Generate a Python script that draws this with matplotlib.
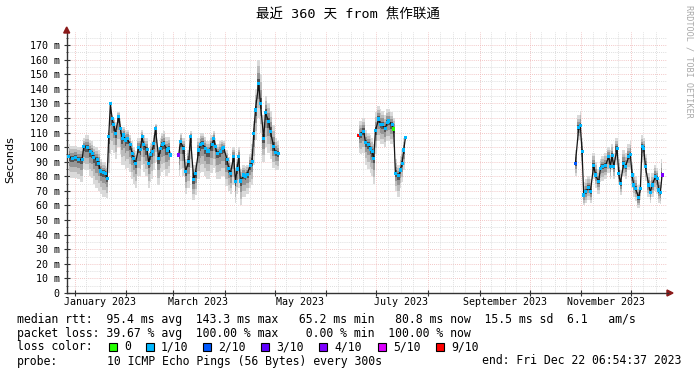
import numpy as np
import pandas as pd
import matplotlib
matplotlib.use("Agg")
import matplotlib.pyplot as plt
from matplotlib.patches import Rectangle, Polygon

# ---- data (median rtt in ms, min/max smoke, loss in tenths)
dates = [
    "2022-12-28", "2022-12-30", "2023-01-01", "2023-01-03", "2023-01-05", "2023-01-06",
    "2023-01-08", "2023-01-10", "2023-01-11", "2023-01-12", "2023-01-14", "2023-01-15",
    "2023-01-16", "2023-01-18", "2023-01-19", "2023-01-20", "2023-01-21", "2023-01-22",
    "2023-01-23", "2023-01-24", "2023-01-25", "2023-01-27", "2023-01-28", "2023-01-29",
    "2023-01-30", "2023-01-31", "2023-02-01", "2023-02-03", "2023-02-04", "2023-02-05",
    "2023-02-06", "2023-02-08", "2023-02-09", "2023-02-10", "2023-02-11", "2023-02-13",
    "2023-02-14", "2023-02-15", "2023-02-16", "2023-02-17", "2023-02-18", "2023-02-20",
    "2023-02-21", "2023-02-22", "2023-02-23", "2023-02-25", "2023-02-26", "2023-02-27",
    "2023-03-01",
    "2023-03-04", "2023-03-05", "2023-03-07", "2023-03-08", "2023-03-10", "2023-03-11",
    "2023-03-13", "2023-03-14", "2023-03-16", "2023-03-17", "2023-03-18", "2023-03-20",
    "2023-03-21", "2023-03-22", "2023-03-24", "2023-03-25", "2023-03-26", "2023-03-27",
    "2023-03-29", "2023-03-30", "2023-03-31", "2023-04-02", "2023-04-03", "2023-04-04",
    "2023-04-06", "2023-04-07", "2023-04-08", "2023-04-09", "2023-04-10", "2023-04-12",
    "2023-04-13", "2023-04-14", "2023-04-16", "2023-04-17", "2023-04-18", "2023-04-19",
    "2023-04-21", "2023-04-22", "2023-04-24", "2023-04-25", "2023-04-27", "2023-04-28",
    "2023-04-30", "2023-05-01", "2023-05-03",
    "2023-05-05",
    "2023-06-20", "2023-06-21", "2023-06-23", "2023-06-24", "2023-06-26", "2023-06-27",
    "2023-06-28", "2023-06-29", "2023-06-30", "2023-07-02", "2023-07-03", "2023-07-04",
    "2023-07-06", "2023-07-07", "2023-07-08", "2023-07-10", "2023-07-11", "2023-07-12",
    "2023-07-14", "2023-07-15", "2023-07-16", "2023-07-17", "2023-07-18",
    "2023-07-20",
    "2023-10-28", "2023-10-30", "2023-10-31", "2023-11-01", "2023-11-02", "2023-11-03",
    "2023-11-05", "2023-11-06", "2023-11-08", "2023-11-09", "2023-11-11", "2023-11-12",
    "2023-11-13", "2023-11-15", "2023-11-17", "2023-11-18", "2023-11-19", "2023-11-20",
    "2023-11-22", "2023-11-23", "2023-11-24", "2023-11-26", "2023-11-27", "2023-11-29",
    "2023-11-30", "2023-12-01", "2023-12-02", "2023-12-03", "2023-12-05", "2023-12-06",
    "2023-12-07", "2023-12-08", "2023-12-09", "2023-12-11", "2023-12-12", "2023-12-13",
    "2023-12-15", "2023-12-16", "2023-12-17", "2023-12-18", "2023-12-19",
]

nan = np.nan
median_ms = [
    93.4, 92.3, 93.0, 91.8, 91.2, 100.3, 99.9, 96.9, 95.8, 92.8, 91.2, 88.9,
    83.6, 82.7, 82.0, 78.6, 107.1, 130.0, 119.7, 115.2, 109.5, 120.9, 112.9, 106.0,
    108.3, 104.9, 106.0, 101.5, 95.8, 92.3, 88.9, 99.6, 98.5, 107.1, 101.5, 98.5,
    88.9, 95.0, 96.9, 102.6, 112.9, 92.3, 99.2, 101.9, 102.6, 98.0, 99.2, 94.6,
    nan,
    94.6, 103.7, 99.2, 83.2, 90.0, 107.1, 77.5, 82.0, 98.0, 101.5, 102.6, 99.2,
    96.9, 97.3, 101.5, 106.0, 100.3, 95.8, 96.9, 99.2, 99.6, 91.2, 85.5, 82.0,
    93.4, 76.3, 85.0, 93.4, 76.8, 80.9, 80.2, 81.4, 87.7, 90.0, 109.5, 125.4,
    143.5, 130.0, 106.0, 123.6, 117.4, 110.6, 100.3, 96.2, 95.8,
    nan,
    107.8, 108.8, 111.0, 103.3, 101.9, 98.7, 96.9, 92.3, 111.3, 119.3, 115.6, 115.2,
    112.9, 117.0, 117.9, 115.2, 112.4, 82.0, 80.4, 84.3, 88.9, 98.0, 106.5,
    nan,
    88.9, 113.3, 114.7, 96.9, 67.2, 69.4, 72.2, 69.4, 87.7, 80.9, 76.3, 85.5,
    86.6, 87.3, 93.4, 86.6, 94.1, 86.6, 99.2, 82.0, 75.2, 88.9, 86.6, 93.4,
    95.0, 80.9, 74.0, 71.8, 65.3, 71.8, 100.3, 99.2, 86.6, 74.0, 69.0, 74.0,
    79.7, 78.6, 70.6, 69.0, 80.9,
]

smoke_lo = [
    80, 79, 79, 78, 76, 85, 84, 80, 79, 75, 72, 70,
    68, 66, 66, 65, 82, 95, 98, 96, 92, 100, 95, 88,
    88, 85, 86, 83, 78, 75, 72, 80, 80, 88, 83, 80,
    72, 76, 78, 84, 90, 74, 80, 83, 84, 80, 82, 78,
    nan,
    80, 85, 80, 68, 72, 86, 64, 67, 78, 82, 83, 80,
    78, 78, 82, 86, 82, 78, 78, 80, 80, 73, 70, 68,
    74, 62, 68, 72, 60, 66, 66, 68, 72, 74, 88, 105,
    120, 110, 90, 100, 96, 92, 86, 84, 84,
    nan,
    96, 95, 96, 88, 85, 82, 80, 75, 95, 104, 102, 102,
    100, 104, 104, 102, 100, 70, 66, 72, 76, 84, 92,
    nan,
    80, 105, 104, 88, 60, 62, 64, 62, 78, 72, 68, 76,
    77, 78, 82, 78, 84, 78, 88, 74, 67, 80, 78, 84,
    85, 72, 66, 63, 58, 64, 90, 88, 77, 66, 62, 66,
    70, 68, 62, 61, 72,
]

smoke_hi = [
    102, 101, 101, 100, 100, 106, 108, 105, 104, 101, 100, 98,
    92, 90, 89, 86, 112, 131, 122, 120, 117, 124, 120, 114,
    114, 112, 112, 108, 104, 100, 97, 106, 106, 112, 108, 106,
    97, 103, 104, 108, 116, 100, 106, 110, 111, 107, 107, 103,
    nan,
    102, 110, 106, 92, 98, 111, 88, 90, 106, 110, 110, 107,
    104, 104, 108, 111, 106, 102, 104, 105, 104, 98, 93, 90,
    100, 86, 92, 100, 85, 88, 87, 88, 95, 102, 118, 140,
    160, 150, 122, 135, 130, 125, 115, 106, 104,
    nan,
    118, 118, 120, 112, 110, 108, 106, 102, 124, 128, 126, 125,
    122, 126, 126, 124, 120, 92, 88, 94, 98, 106, 114,
    nan,
    98, 122, 125, 106, 76, 78, 80, 78, 96, 90, 85, 92,
    94, 96, 100, 98, 102, 96, 106, 92, 84, 98, 96, 102,
    104, 90, 82, 80, 74, 80, 108, 106, 95, 82, 77, 82,
    88, 86, 78, 76, 92,
]

loss_tenths = [
    1, 1, 1, 1, 1, 1, 1, 1, 1, 1, 1, 1,
    1, 1, 1, 1, 1, 1, 1, 1, 1, 1, 1, 1,
    1, 1, 1, 1, 1, 1, 1, 1, 1, 1, 1, 1,
    1, 1, 1, 1, 1, 1, 1, 1, 1, 1, 1, 1,
    10,
    4, 1, 1, 1, 1, 1, 1, 1, 1, 1, 1, 1,
    1, 1, 1, 1, 1, 1, 1, 1, 1, 1, 1, 1,
    1, 1, 1, 1, 1, 1, 1, 1, 1, 1, 1, 1,
    1, 1, 1, 1, 1, 1, 1, 1, 1,
    10,
    9, 1, 1, 1, 1, 1, 1, 1, 1, 1, 1, 1,
    1, 1, 1, 1, 0, 1, 1, 1, 1, 1, 1,
    10,
    2, 1, 1, 1, 1, 1, 1, 1, 1, 1, 1, 1,
    1, 1, 1, 1, 1, 1, 1, 1, 1, 1, 1, 1,
    1, 1, 1, 1, 1, 1, 1, 1, 1, 1, 1, 1,
    1, 1, 1, 1, 4,
]

loss_labels = ["0", "1/10", "2/10", "3/10", "4/10", "5/10", "9/10"]
loss_colors = ["#26ff00", "#00b8ff", "#0059ff", "#5e00ff", "#7e00ff", "#dd00ff", "#ff0000"]
loss_color_of = {0: "#26ff00", 1: "#00b8ff", 2: "#0059ff", 3: "#5e00ff",
                 4: "#7e00ff", 5: "#dd00ff", 9: "#ff0000"}

start = pd.Timestamp("2022-12-27 06:54:37")
end = pd.Timestamp("2023-12-22 06:54:37")

t = pd.to_datetime(dates) + pd.Timedelta(hours=12)
med = np.array(median_ms, dtype=float)
lo = np.array(smoke_lo, dtype=float)
hi = np.array(smoke_hi, dtype=float)

W, H = 697, 375
fig = plt.figure(figsize=(W / 100, H / 100), dpi=100)
fig.patch.set_facecolor("white")

def fx(px):
    return px / W

def fy(py):
    return 1 - py / H

x0, x1 = 66.7, 666.7
y0, y1 = 293.0, 32.0
ax = fig.add_axes([fx(x0), fy(y0), fx(x1) - fx(x0), fy(y1) - fy(y0)])
ax.set_xlim(start, end)
ax.set_ylim(0, 178.9)

# grid
for v in np.arange(5, 179, 10):
    ax.axhline(v, color="#d4d4d4", lw=0.6, ls=(0, (1, 1.5)), zorder=0)
for v in np.arange(10, 179, 10):
    ax.axhline(v, color="#eeb4b4", lw=0.6, ls=(0, (1, 1.5)), zorder=0)
months = pd.date_range("2023-01-01", "2023-12-01", freq="MS")
for m in months:
    for d in (8, 16, 23):
        ax.axvline(m + pd.Timedelta(days=d - 1), color="#d4d4d4", lw=0.6,
                   ls=(0, (1, 1.5)), zorder=0)
    ax.axvline(m, color="#eeb4b4", lw=0.6, ls=(0, (1, 1.5)), zorder=0)

# smoke, outer (light) to inner (dark)
shades = [(1.0, "#dadada"), (0.72, "#bcbcbc"), (0.45, "#969696"), (0.2, "#555555")]
for frac, col in shades:
    ax.fill_between(t, med - frac * (med - lo), med + frac * (hi - med),
                    step="mid", color=col, lw=0, zorder=2)

# median line and loss-coloured points
ax.plot(t, med, color="#151515", lw=0.9, zorder=3)
pt_cols = [loss_color_of.get(l, "none") for l in loss_tenths]
ok = ~np.isnan(med)
ax.scatter(t[ok], med[ok], c=[c for c, k in zip(pt_cols, ok) if k], marker="s",
           s=5, linewidths=0, zorder=4)

# axes styling
for s in ("top", "right"):
    ax.spines[s].set_visible(False)
ax.spines["left"].set_color("#333333")
ax.spines["bottom"].set_color("#333333")
ax.spines["left"].set_linewidth(1.0)
ax.spines["bottom"].set_linewidth(1.0)

ax.set_yticks(np.arange(0, 171, 10))
ax.set_yticklabels(["0"] + [f"{v} m" for v in range(10, 171, 10)])
ax.set_yticks(np.arange(5, 179, 10), minor=True)
ax.tick_params(axis="y", which="major", direction="inout", length=4, width=0.8,
               colors="#333333", labelcolor="black", labelsize=7.2, pad=3)
ax.tick_params(axis="y", which="minor", direction="inout", length=2, width=0.6,
               colors="#333333")

ax.set_xticks(list(months))
ax.set_xticklabels([])
ax.tick_params(axis="x", which="major", direction="inout", length=4, width=0.8,
               colors="#333333")
label_pos = [pd.Timestamp(f"2023-{m:02d}-16") for m in (1, 3, 5, 7, 9, 11)]
label_txt = ["January 2023", "March 2023", "May 2023", "July 2023",
             "September 2023", "November 2023"]
ax.set_xticks(label_pos, minor=True)
ax.set_xticklabels(label_txt, minor=True)
ax.tick_params(axis="x", which="minor", length=0, labelsize=7.2, pad=3)
for lab in ax.get_xticklabels(minor=True) + ax.get_yticklabels():
    lab.set_family("DejaVu Sans Mono")

# axis arrows
arrow_col = "#8b1a1a"
fig.add_artist(Polygon([[fx(x0 - 3), fy(33)], [fx(x0 + 3), fy(33)], [fx(x0), fy(27)]],
                       closed=True, color=arrow_col, transform=fig.transFigure))
fig.add_artist(plt.Line2D([fx(x1), fx(668)], [fy(y0), fy(y0)], color="#333333",
                          lw=1.0, transform=fig.transFigure))
fig.add_artist(Polygon([[fx(667), fy(y0 - 3)], [fx(667), fy(y0 + 3)], [fx(673), fy(y0)]],
                       closed=True, color=arrow_col, transform=fig.transFigure))

# titles
fig.text(fx(348), fy(15), "最近 360 天 from 焦作联通", ha="center", va="center",
         fontsize=9.7, family=["DejaVu Sans Mono", "Noto Sans CJK SC"])
fig.text(fx(10), fy(160), "Seconds", rotation=90, ha="center", va="center",
         fontsize=8, family="DejaVu Sans")
fig.text(fx(689), fy(5), "RRDTOOL / TOBI OETIKER", rotation=270, ha="center",
         va="top", fontsize=6.1, color="#a8a8a8", family="DejaVu Sans Mono")

# legend lines
mono = dict(fontsize=8.3, family="DejaVu Sans Mono", va="center", ha="left")
fig.text(fx(17), fy(319),
         "median rtt:  95.4 ms avg  143.3 ms max   65.2 ms min   80.8 ms now  15.5 ms sd  6.1   am/s",
         **mono)
fig.text(fx(17), fy(333),
         "packet loss: 39.67 % avg  100.00 % max    0.00 % min  100.00 % now", **mono)
fig.text(fx(17), fy(347), "loss color:", **mono)
box_x = [109, 146, 203, 261, 319, 378, 436]
for bx, lab, col in zip(box_x, loss_labels, loss_colors):
    fig.add_artist(Rectangle((fx(bx), fy(351)), fx(8), 8 / H, facecolor=col,
                             edgecolor="black", lw=0.8, transform=fig.transFigure))
    fig.text(fx(bx + 15), fy(347), lab, **mono)
fig.text(fx(17), fy(361), "probe:", **mono)
fig.text(fx(107), fy(361), "10 ICMP Echo Pings (56 Bytes) every 300s", **mono)
fig.text(fx(681), fy(361), "end: Fri Dec 22 06:54:37 2023",
         fontsize=8.3, family="DejaVu Sans Mono", va="center", ha="right")

fig.savefig("out.png", dpi=100, facecolor="white")
